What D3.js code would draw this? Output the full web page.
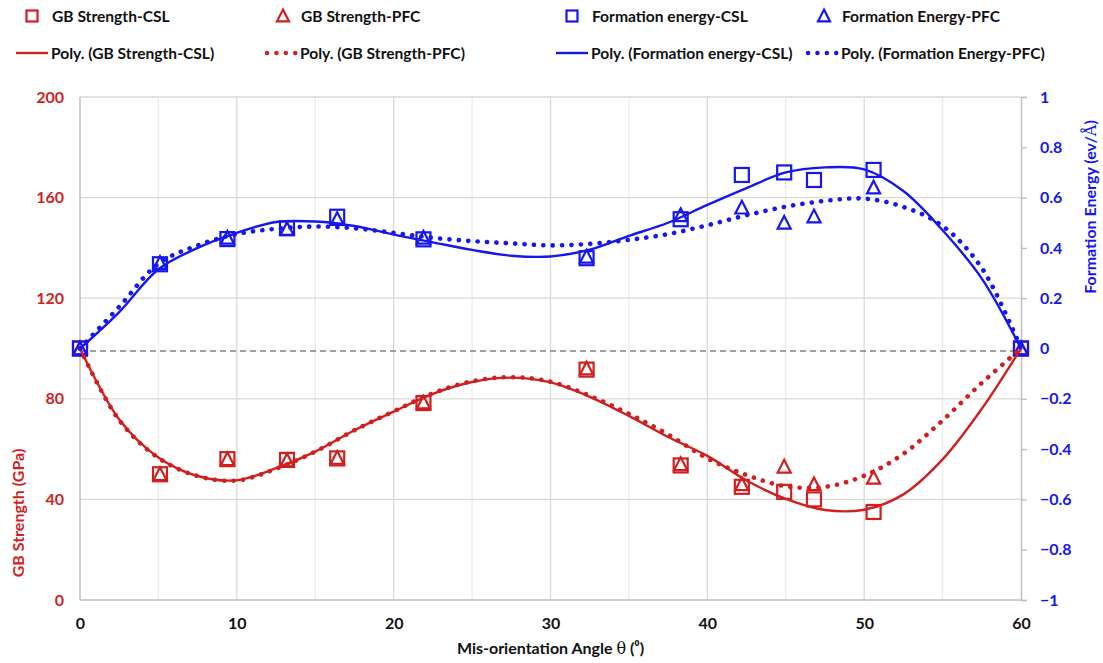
<!DOCTYPE html>
<html><head><meta charset="utf-8">
<script src="https://cdn.jsdelivr.net/npm/d3@7"></script>
<style>
html,body{margin:0;padding:0;background:#fff;}
svg text{font-family:Lato,"Open Sans",sans-serif;font-weight:700;}
</style></head>
<body><svg id="c" width="1103" height="663"></svg>
<script>
// ---------- data ----------
const angles = [0, 5.1, 9.4, 13.2, 16.4, 21.9, 32.3, 38.3, 42.2, 44.9, 46.8, 50.6, 60];
const gbCSL  = [100, 50, 56, 55.7, 56.3, 78.3, 91.6, 53.5, 45, 43, 40, 35, 100];
const gbPFC  = [100, 50, 56, 55.5, 56.5, 78.5, 92, 54, 46, 53, 46, 48.6, 100];
const feCSL  = [0, 0.335, 0.435, 0.478, 0.524, 0.434, 0.359, 0.514, 0.69, 0.70, 0.67, 0.71, 0];
const fePFC  = [0, 0.34, 0.44, 0.475, 0.515, 0.44, 0.365, 0.53, 0.56, 0.50, 0.525, 0.64, 0];

// trendlines (Poly.)
const trendX     = [0,2.5,5,7.5,10,12.5,15,17.5,20,22.5,25,27.5,30,32.5,35,37.5,40,42.5,45,47.5,50,52.5,55,57.5,60];
const gbCSLfit   = [100,71.8,56.7,49.3,47.6,52.4,59,67.5,74.9,82,86.7,88.4,86.5,80.8,73.2,64.8,57.3,47.5,40.2,35.8,35.9,42.0,55.9,76,100];
const gbPFCfit   = [100,71.5,56.5,49.3,47.5,52.2,59,67.5,75,82.2,87,88.6,86.8,81.2,74,65.8,56.3,49.7,45.2,45,49.4,58.1,71.4,86.3,100];
const feCSLfit   = [0,0.145,0.315,0.40,0.46,0.503,0.505,0.487,0.453,0.422,0.392,0.369,0.366,0.393,0.448,0.50,0.571,0.638,0.70,0.72,0.712,0.626,0.47,0.278,0];
const fePFCfit   = [0,0.166,0.337,0.41,0.455,0.476,0.485,0.478,0.46,0.44,0.427,0.418,0.41,0.416,0.432,0.455,0.49,0.53,0.564,0.587,0.596,0.563,0.487,0.32,0];

const xTicks      = [0,10,20,30,40,50,60];
const xGrid       = [5,10,15,20,25,30,35,40,45,50,55];
const yLeftTicks  = [0,40,80,120,160,200];
const yRightTicks = [-1,-0.8,-0.6,-0.4,-0.2,0,0.2,0.4,0.6,0.8,1];
const refLevel    = 99;

const legendItems = [
  {label:"GB Strength-CSL", kind:"square", color:"red"},
  {label:"GB Strength-PFC", kind:"triangle", color:"red"},
  {label:"Formation energy-CSL", kind:"square", color:"blue"},
  {label:"Formation Energy-PFC", kind:"triangle", color:"blue"},
  {label:"Poly. (GB Strength-CSL)", kind:"solid", color:"red"},
  {label:"Poly. (GB Strength-PFC)", kind:"dotted", color:"red"},
  {label:"Poly. (Formation energy-CSL)", kind:"solid", color:"blue"},
  {label:"Poly. (Formation Energy-PFC)", kind:"dotted", color:"blue"}
];

// ---------- drawing ----------
const RED = "#d01f1f", BLUE = "#1616f0";
const col = c => c === "red" ? RED : BLUE;
const svg = d3.select("#c");
const L = 80, R = 1021, T = 97, B = 600;
const x = d3.scaleLinear().domain([0,60]).range([L,R]);
const yL = d3.scaleLinear().domain([0,200]).range([B,T]);
const yR = d3.scaleLinear().domain([-1,1]).range([B,T]);

// grid
const g = svg.append("g");
g.selectAll(".vg").data(xGrid).join("line")
  .attr("x1",d=>x(d)).attr("x2",d=>x(d)).attr("y1",T).attr("y2",B)
  .attr("stroke",d=> d%10===0 ? "#d9d9d9" : "#ececec").attr("stroke-width",1.3);
g.selectAll(".hg").data(yLeftTicks.filter(d=>d>0)).join("line")
  .attr("x1",L).attr("x2",R).attr("y1",d=>yL(d)).attr("y2",d=>yL(d))
  .attr("stroke","#d9d9d9").attr("stroke-width",1.3);

// axes lines
g.append("line").attr("x1",L).attr("x2",L).attr("y1",T).attr("y2",B).attr("stroke","#bfbfbf").attr("stroke-width",1.5);
g.append("line").attr("x1",L).attr("x2",R).attr("y1",B).attr("y2",B).attr("stroke","#bfbfbf").attr("stroke-width",1.5);

// left axis
const axL = svg.append("g").attr("transform",`translate(${L},0)`)
  .call(d3.axisLeft(yL).tickValues(yLeftTicks).tickSize(0).tickPadding(16).tickFormat(d3.format("d")));
axL.select(".domain").remove();
axL.selectAll("text").attr("fill",RED).style("font-size","16px");

// right axis
const axR = svg.append("g").attr("transform",`translate(${R},0)`)
  .call(d3.axisRight(yR).tickValues(yRightTicks).tickSize(6).tickPadding(13).tickFormat(d=> d===0?"0":d3.format("")(+d.toFixed(1))));
axR.select(".domain").attr("stroke","#bfbfbf").attr("stroke-width",1.5);
axR.selectAll("line").attr("stroke","#bfbfbf").attr("stroke-width",1.3);
axR.selectAll("text").attr("fill",BLUE).style("font-size","16px");

// bottom axis
const axB = svg.append("g").attr("transform",`translate(0,${B})`)
  .call(d3.axisBottom(x).tickValues(xTicks).tickSize(0).tickPadding(18).tickFormat(d3.format("d")));
axB.select(".domain").remove();
axB.selectAll("text").attr("fill","#111").style("font-size","16px");

// titles
const xt = svg.append("text").attr("x",(L+R)/2).attr("y",654).attr("text-anchor","middle")
  .attr("fill","#111").style("font-size","16px");
xt.append("tspan").text("Mis-orientation Angle ");
xt.append("tspan").text("θ").style("font-family","'DejaVu Serif',serif").style("font-weight","400");
xt.append("tspan").text(" (⁰)");

svg.append("text").attr("transform","translate(24,513) rotate(-90)").attr("text-anchor","middle")
  .attr("fill",RED).style("font-size","16px").text("GB Strength (GPa)");
const rt = svg.append("text").attr("transform","translate(1096,207) rotate(-90)").attr("text-anchor","middle")
  .attr("fill",BLUE).style("font-size","16px");
rt.append("tspan").text("Formation Energy (ev/");
rt.append("tspan").text("Å").style("font-family","'DejaVu Serif',serif").style("font-weight","400");
rt.append("tspan").text(")");

// reference dashed line
svg.append("line").attr("x1",x(0)).attr("x2",x(60)).attr("y1",yL(refLevel)).attr("y2",yL(refLevel))
  .attr("stroke","#808080").attr("stroke-width",1.3).attr("stroke-dasharray","6,4");

// markers
function square(sel, cx, cy, s, color){
  sel.append("rect").attr("x",cx-s/2).attr("y",cy-s/2).attr("width",s).attr("height",s)
    .attr("fill","none").attr("stroke",color).attr("stroke-width",2.2);
}
function triangle(sel, cx, cy, s, color){
  const h = s*0.9;
  sel.append("path").attr("d",`M${cx},${cy-h/2-1}L${cx+s/2},${cy+h/2}L${cx-s/2},${cy+h/2}Z`)
    .attr("fill","none").attr("stroke",color).attr("stroke-width",2.2).attr("stroke-linejoin","miter");
}
const mk = svg.append("g");
angles.forEach((a,i)=>{ square(mk, x(a), yL(gbCSL[i]), 14, RED); });
angles.forEach((a,i)=>{ triangle(mk, x(a), yL(gbPFC[i]), 13, RED); });
angles.forEach((a,i)=>{ square(mk, x(a), yR(feCSL[i]), 14, BLUE); });
angles.forEach((a,i)=>{ triangle(mk, x(a), yR(fePFC[i]), 13, BLUE); });

// trendlines
const lineL = d3.line().x((d,i)=>x(trendX[i])).y(d=>yL(d)).curve(d3.curveCatmullRom.alpha(0.5));
const lineR = d3.line().x((d,i)=>x(trendX[i])).y(d=>yR(d)).curve(d3.curveCatmullRom.alpha(0.5));
function trend(path, color, dotted){
  const p = svg.append("path").attr("d",path).attr("fill","none").attr("stroke",color);
  if(dotted) p.attr("stroke-width",4.6).attr("stroke-linecap","round").attr("stroke-dasharray","0.1,9.3");
  else p.attr("stroke-width",2.4);
}
trend(lineL(gbCSLfit), RED, false);
trend(lineL(gbPFCfit), RED, true);
trend(lineR(feCSLfit), BLUE, false);
trend(lineR(fePFCfit), BLUE, true);

// legend
const colX = [16, 265, 556, 806];
const rowY = [17, 54];
const lg = svg.append("g");
legendItems.forEach((it,i)=>{
  const cx = colX[i%4], cy = rowY[Math.floor(i/4)];
  const c = col(it.color);
  if(it.kind==="square"){ square(lg, cx+16, cy-1, 11, c); }
  else if(it.kind==="triangle"){ triangle(lg, cx+18, cy-1, 12, c); }
  else if(it.kind==="solid"){ lg.append("line").attr("x1",cx).attr("x2",cx+32).attr("y1",cy-1).attr("y2",cy-1).attr("stroke",c).attr("stroke-width",2.4); }
  else { lg.append("line").attr("x1",cx+2).attr("x2",cx+32).attr("y1",cy-1).attr("y2",cy-1).attr("stroke",c)
          .attr("stroke-width",4.4).attr("stroke-linecap","round").attr("stroke-dasharray","0.1,9.3"); }
  const tx = (it.kind==="square"||it.kind==="triangle") ? cx+36 : cx+35;
  lg.append("text").attr("x",tx).attr("y",cy+5).attr("fill","#111").style("font-size","15.6px").text(it.label);
});
</script></body></html>
